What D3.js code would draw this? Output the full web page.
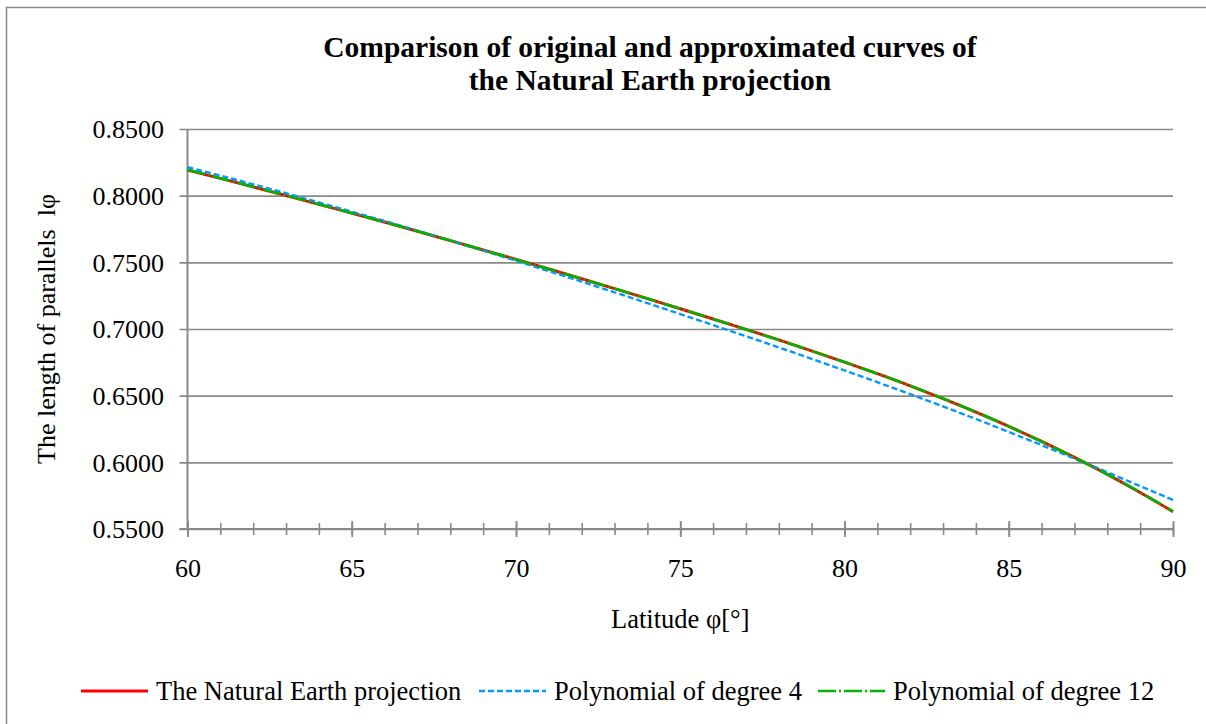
<!DOCTYPE html>
<html>
<head>
<meta charset="utf-8">
<script src="https://cdn.jsdelivr.net/npm/d3@7"></script>
<style>
  html, body { margin: 0; padding: 0; background: #fff; }
  svg { display: block; }
  svg text { font-family: "Liberation Serif", "Times New Roman", serif; fill: #000; }
</style>
</head>
<body>
<svg id="chart" width="1206" height="724"></svg>
<script>
// Latitude (degrees) sampled every degree from 60 to 90
const latitudes = [60, 61, 62, 63, 64, 65, 66, 67, 68, 69, 70, 71, 72, 73, 74, 75,
                   76, 77, 78, 79, 80, 81, 82, 83, 84, 85, 86, 87, 88, 89, 90];

// Length of parallels – original Natural Earth curve
const naturalEarth = [0.8193, 0.8130, 0.8066, 0.8001, 0.7935, 0.7869, 0.7802, 0.7733,
                      0.7663, 0.7593, 0.7522, 0.7450, 0.7377, 0.7303, 0.7228, 0.7152,
                      0.7075, 0.6997, 0.6918, 0.6836, 0.6752, 0.6665, 0.6574, 0.6478,
                      0.6377, 0.6270, 0.6157, 0.6037, 0.5910, 0.5774, 0.5630];

// Approximation with a polynomial of degree 4
const poly4 = [0.8213, 0.8150, 0.8085, 0.8018, 0.7949, 0.7880, 0.7810, 0.7737,
               0.7663, 0.7588, 0.7512, 0.7434, 0.7355, 0.7275, 0.7194, 0.7112,
               0.7029, 0.6946, 0.6862, 0.6776, 0.6689, 0.6601, 0.6511, 0.6419,
               0.6325, 0.6228, 0.6129, 0.6028, 0.5926, 0.5822, 0.5718];

// Approximation with a polynomial of degree 12
const poly12 = [0.8194, 0.8130, 0.8066, 0.8002, 0.7936, 0.7869, 0.7801, 0.7733,
                0.7664, 0.7593, 0.7522, 0.7450, 0.7377, 0.7303, 0.7228, 0.7152,
                0.7075, 0.6997, 0.6917, 0.6836, 0.6752, 0.6665, 0.6575, 0.6479,
                0.6378, 0.6270, 0.6156, 0.6036, 0.5910, 0.5775, 0.5632];

const yTicks = [0.55, 0.60, 0.65, 0.70, 0.75, 0.80, 0.85];
const xMajorTicks = [60, 65, 70, 75, 80, 85, 90];

const titleLines = ["Comparison of original and approximated curves of",
                    "the Natural Earth projection"];
const seriesNames = ["The Natural Earth projection", "Polynomial of degree 4", "Polynomial of degree 12"];

const svg = d3.select("#chart");
const gridColor = "#898989";
const serif = "Liberation Serif";

// chart area frame (continues past the right and bottom edges)
svg.append("rect")
  .attr("x", 6.5).attr("y", 7.5)
  .attr("width", 1260).attr("height", 760)
  .attr("fill", "none").attr("stroke", gridColor).attr("stroke-width", 1.5);

const plot = { left: 187.5, right: 1173, top: 129, bottom: 529 };

const x = d3.scaleLinear().domain([60, 90]).range([plot.left, plot.right]);
const y = d3.scaleLinear().domain([0.55, 0.85]).range([plot.bottom, plot.top]);

// horizontal gridlines with left tick stubs and labels
const yAxis = d3.axisLeft(y)
  .tickValues(yTicks)
  .tickFormat(d3.format(".4f"))
  .tickSize(0)
  .tickPadding(0);

const gy = svg.append("g")
  .attr("transform", `translate(${plot.right},0)`)
  .attr("font-family", serif)
  .call(yAxis);
gy.select(".domain").remove();
gy.selectAll(".tick line")
  .attr("x1", 0)
  .attr("x2", -(plot.right - plot.left + 8))
  .attr("stroke", gridColor).attr("stroke-width", 1.6);
gy.selectAll(".tick text")
  .attr("x", -(plot.right - 164))
  .attr("dy", "0.34em")
  .attr("fill", "#000")
  .attr("font-size", 26);

// vertical axis line
svg.append("line")
  .attr("x1", plot.left).attr("x2", plot.left)
  .attr("y1", plot.top).attr("y2", plot.bottom)
  .attr("stroke", gridColor).attr("stroke-width", 2);

// x axis: minor ticks each degree, major every five degrees
const xMinor = d3.axisBottom(x).tickValues(latitudes).tickSize(0).tickFormat("");
const gxMinor = svg.append("g").attr("transform", `translate(0,${plot.bottom})`).call(xMinor);
gxMinor.select(".domain").remove();
gxMinor.selectAll(".tick line")
  .attr("y1", -6).attr("y2", 6)
  .attr("stroke", gridColor).attr("stroke-width", 1.6);

const xMajor = d3.axisBottom(x).tickValues(xMajorTicks).tickSize(0).tickFormat(d3.format("d"));
const gxMajor = svg.append("g")
  .attr("transform", `translate(0,${plot.bottom})`)
  .attr("font-family", serif)
  .call(xMajor);
gxMajor.select(".domain")
  .attr("d", `M${plot.left - 8},0H${plot.right}`)
  .attr("stroke", gridColor).attr("stroke-width", 2);
gxMajor.selectAll(".tick line")
  .attr("y1", -8).attr("y2", 8)
  .attr("stroke", gridColor).attr("stroke-width", 1.8);
gxMajor.selectAll(".tick text")
  .attr("y", 48).attr("dy", 0)
  .attr("fill", "#000")
  .attr("font-size", 26);

// series lines
const series = [
  { name: seriesNames[0], values: naturalEarth, color: "#ff0000", width: 3,   dash: null },
  { name: seriesNames[1], values: poly4,        color: "#0099ff", width: 2.4, dash: "6,3" },
  { name: seriesNames[2], values: poly12,       color: "#00b400", width: 2.6, dash: "18,3,2,3" }
];

const line = d3.line()
  .x((d, i) => x(latitudes[i]))
  .y(d => y(d))
  .curve(d3.curveMonotoneX);

series.forEach(s => {
  svg.append("path")
    .datum(s.values)
    .attr("d", line)
    .attr("fill", "none")
    .attr("stroke", s.color)
    .attr("stroke-width", s.width)
    .attr("stroke-dasharray", s.dash);
});

// title
const title = svg.append("text")
  .attr("text-anchor", "middle")
  .attr("font-weight", "bold")
  .attr("font-size", 29.5);
titleLines.forEach((t, i) => {
  title.append("tspan")
    .attr("x", 650)
    .attr("y", 57 + i * 33)
    .text(t);
});

// axis titles
svg.append("text")
  .attr("x", (plot.left + plot.right) / 2)
  .attr("y", 628)
  .attr("text-anchor", "middle")
  .attr("font-size", 26.5)
  .text("Latitude φ[°]");

svg.append("text")
  .attr("transform", `translate(55,${(plot.top + plot.bottom) / 2}) rotate(-90)`)
  .attr("text-anchor", "middle")
  .attr("xml:space", "preserve")
  .style("white-space", "pre")
  .attr("font-size", 26)
  .text("The length of parallels  lφ");

// legend
const legendX = [81, 479, 818];
const legend = svg.append("g");
series.forEach((s, i) => {
  legend.append("line")
    .attr("x1", legendX[i]).attr("x2", legendX[i] + 67)
    .attr("y1", 691).attr("y2", 691)
    .attr("stroke", s.color)
    .attr("stroke-width", s.width)
    .attr("stroke-dasharray", s.dash);
  legend.append("text")
    .attr("x", legendX[i] + 75)
    .attr("y", 700)
    .attr("font-size", 26.5)
    .text(s.name);
});
</script>
</body>
</html>
